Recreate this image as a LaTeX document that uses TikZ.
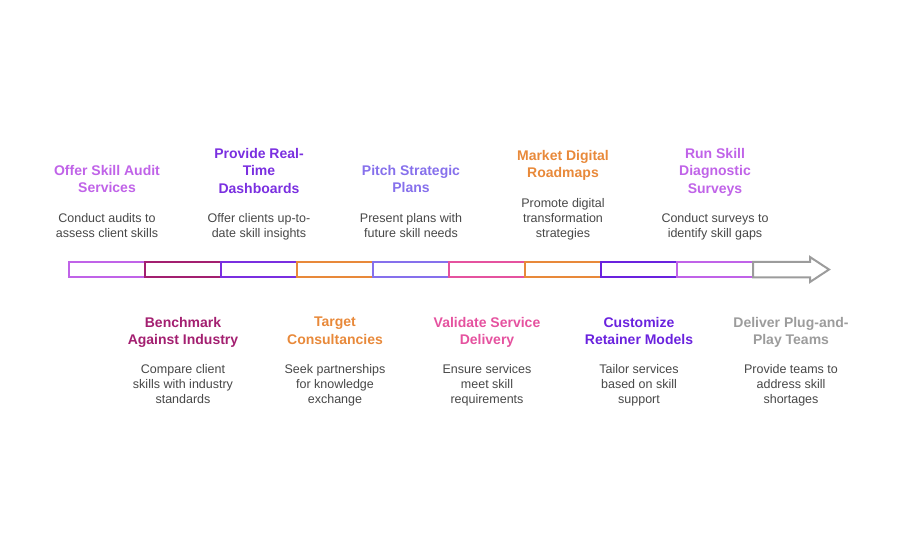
\documentclass[tikz,border=0pt]{standalone}
\usepackage{fontspec}
\setmainfont{Liberation Sans}
\definecolor{lilac}{HTML}{C063E8}
\definecolor{plum}{HTML}{A31F70}
\definecolor{violet}{HTML}{7A2FE0}
\definecolor{amber}{HTML}{E8893A}
\definecolor{periwinkle}{HTML}{8670EC}
\definecolor{rose}{HTML}{E5529F}
\definecolor{indigo}{HTML}{6A22DE}
\definecolor{ash}{HTML}{9C9C9C}
\colorlet{desctext}{black!72}
\tikzset{seg/.style={
  draw,line width=2pt,minimum width=76pt,minimum height=15.5pt,
  inner sep=0pt,outer sep=0pt,fill=white
}}
\tikzset{ttl/.style={
  anchor=north,align=center,inner sep=0pt,
  font=\fontsize{14}{17.5}\selectfont\bfseries
}}
\tikzset{dsc/.style={
  anchor=north,align=center,inner sep=0pt,text=desctext,
  font=\fontsize{12.5}{15}\selectfont
}}

\begin{document}
\begin{tikzpicture}[x=1pt,y=-1pt]
    \useasboundingbox (0,0) rectangle (900,550);
    \node[seg,draw=lilac] (s1) at (107,269.5) {};
    \node[seg,draw=plum] (s2) at (183,269.5) {};
    \node[seg,draw=violet] (s3) at (259,269.5) {};
    \node[seg,draw=amber] (s4) at (335,269.5) {};
    \node[seg,draw=periwinkle] (s5) at (411,269.5) {};
    \node[seg,draw=rose] (s6) at (487,269.5) {};
    \node[seg,draw=amber] (s7) at (563,269.5) {};
    \node[seg,draw=indigo] (s8) at (639,269.5) {};
    \node[seg,draw=lilac] (s9) at (715,269.5) {};
    % arrow at the end of the bar
    \draw[ash,line width=2pt,line join=miter] (s9.north east)
      -- (810,0 |- s9.north east) -- (810,257) -- (829,269.5)
      -- (810,282) -- (810,0 |- s9.south east)
      -- (s9.south east) -- cycle;
    % labels above the bar
    \node[ttl,text=lilac] (t1) at (107,165) {Offer Skill Audit\\Services};
    \node[dsc] (d1) at (107,213) {Conduct audits to\\assess client skills};
    \node[ttl,text=violet] (t3) at (259,148) {Provide Real-\\Time\\Dashboards};
    \node[dsc] (d3) at (259,213) {Offer clients up-to-\\date skill insights};
    \node[ttl,text=periwinkle] (t5) at (411,165) {Pitch Strategic\\Plans};
    \node[dsc] (d5) at (411,213) {Present plans with\\future skill needs};
    \node[ttl,text=amber] (t7) at (563,150) {Market Digital\\Roadmaps};
    \node[dsc] (d7) at (563,198) {Promote digital\\transformation\\strategies};
    \node[ttl,text=lilac] (t9) at (715,148) {Run Skill\\Diagnostic\\Surveys};
    \node[dsc] (d9) at (715,213) {Conduct surveys to\\identify skill gaps};
    % labels below the bar
    \node[ttl,text=plum] (t2) at (183,317) {Benchmark\\Against Industry};
    \node[dsc] (d2) at (183,364) {Compare client\\skills with industry\\standards};
    \node[ttl,text=amber] (t4) at (335,317) {Target\\Consultancies};
    \node[dsc] (d4) at (335,364) {Seek partnerships\\for knowledge\\exchange};
    \node[ttl,text=rose] (t6) at (487,317) {Validate Service\\Delivery};
    \node[dsc] (d6) at (487,364) {Ensure services\\meet skill\\requirements};
    \node[ttl,text=indigo] (t8) at (639,317) {Customize\\Retainer Models};
    \node[dsc] (d8) at (639,364) {Tailor services\\based on skill\\support};
    \node[ttl,text=ash] (t10) at (791,317) {Deliver Plug-and-\\Play Teams};
    \node[dsc] (d10) at (791,364) {Provide teams to\\address skill\\shortages};
\end{tikzpicture}
\end{document}
